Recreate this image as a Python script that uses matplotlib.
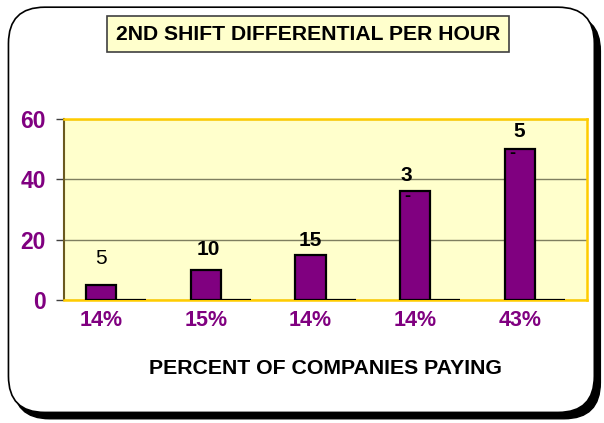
import matplotlib
matplotlib.use("Agg")
import matplotlib.pyplot as plt
from matplotlib.patches import FancyBboxPatch
import numpy as np

plt.rcParams['font.family'] = ['Liberation Sans', 'DejaVu Sans']

categories = ["14%", "15%", "14%", "14%", "43%"]
values = [5, 10, 15, 36, 50]
second = [0, 0, 0, 0, 0]
bar_labels = ["5", "10", "15", "3", "5"]
label_bold = [False, True, True, True, True]
inner_marks = ["", "", "", "-", "-"]
yticks = [0, 20, 40, 60]

purple = "#800080"
fig = plt.figure(figsize=(6.04, 4.23), dpi=100)
fig.patch.set_facecolor("white")

# frame with shadow
shadow = FancyBboxPatch((0.022, 0.010), 0.972, 0.955, boxstyle="round,pad=0,rounding_size=0.06",
                        transform=fig.transFigure, facecolor="black", edgecolor="black",
                        mutation_aspect=604/423, zorder=0)
frame = FancyBboxPatch((0.014, 0.025), 0.97, 0.958, boxstyle="round,pad=0,rounding_size=0.06",
                       transform=fig.transFigure, facecolor="white", edgecolor="black",
                       linewidth=1.2, mutation_aspect=604/423, zorder=1)
fig.patches.extend([shadow, frame])

ax = fig.add_axes([64/604, 1-300/423, (587-64)/604, (300-119)/423])
ax.set_zorder(2)
ax.set_facecolor("#FFFFCC")

x = np.arange(len(categories))
w = 0.287
ax.bar(x - w/2, values, width=w, color=purple, edgecolor="black", linewidth=1.6, zorder=3)
ax.bar(x + w/2, second, width=w, color=purple, edgecolor="black", linewidth=1.6, zorder=3)

offsets = [(0.0, 8.6), (0.02, 6.6), (-0.0, 4.6), (-0.08, 5.4), (0.0, 6.0)]
for i, (v, lab, b) in enumerate(zip(values, bar_labels, label_bold)):
    dx, dy = offsets[i]
    ax.text(x[i] - w/2 + dx, v + dy, lab, ha="center", va="center", fontsize=15,
            fontweight="bold" if b else "normal", color="black", zorder=4)
    if inner_marks[i]:
        ax.text(x[i] - w/2 - 0.07, v - 1.6, inner_marks[i], ha="center", va="center",
                fontsize=13, fontweight="bold", color="black", zorder=4)

ax.set_xlim(-0.5, len(categories) - 0.5)
ax.set_ylim(0, 60)
ax.set_yticks(yticks)
ax.set_yticklabels([str(t) for t in yticks], fontsize=16.5, fontweight="bold", color=purple)
ax.set_xticks(x - w/2)
ax.set_xticklabels(categories, fontsize=15.5, fontweight="bold", color=purple)
ax.tick_params(axis="x", length=0, pad=7)
ax.tick_params(axis="y", length=6, width=1, color="#404040", pad=7)
ax.grid(axis="y", color="#7F7F5F", linewidth=1.0, zorder=1)
ax.set_axisbelow(True)
for s in ["top", "right", "bottom"]:
    ax.spines[s].set_color("#FFCC00")
    ax.spines[s].set_linewidth(1.8)
ax.spines["left"].set_color("#6B5A20")
ax.spines["left"].set_linewidth(1.5)

ax.set_xlabel("PERCENT OF COMPANIES PAYING", fontsize=15.3, fontweight="bold", color="black")
ax.xaxis.set_label_coords(0.5, -(368 - 300) / 181.0)
ax.xaxis.label.set_va("center")

fig.text(308/604, 1-34/423, "2ND SHIFT DIFFERENTIAL PER HOUR", ha="center", va="center",
         fontsize=15.2, fontweight="bold", color="black", zorder=5,
         bbox=dict(boxstyle="square,pad=0.4", facecolor="#FFFFCC", edgecolor="#404040", linewidth=1.2))

fig.savefig("out.png", dpi=100)
